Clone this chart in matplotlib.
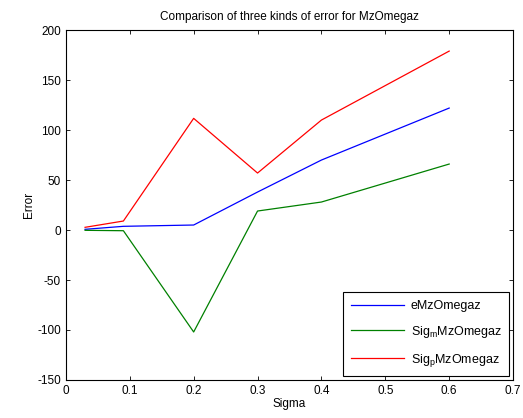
import matplotlib
matplotlib.use('Agg')
import matplotlib.pyplot as plt

plt.rcParams['font.family'] = ['Liberation Sans', 'DejaVu Sans']
plt.rcParams['font.size'] = 8.5
plt.rcParams['axes.unicode_minus'] = False
plt.rcParams['mathtext.fontset'] = 'custom'
plt.rcParams['mathtext.rm'] = 'Liberation Sans'

sigma = [0.03, 0.09, 0.2, 0.3, 0.4, 0.6]
e_err = [0.7, 3.7, 5, 38, 70, 122]
sig_m = [-0.3, -0.7, -102, 19, 28, 66]
sig_p = [2.7, 9, 111.7, 57, 110, 179]
labels = ['eMzOmegaz', 'Sig$_{\\rm m}$MzOmegaz', 'Sig$_{\\rm p}$MzOmegaz']

fig = plt.figure(figsize=(5.23, 4.18), dpi=100)
ax = fig.add_axes([0.126, 0.091, 0.855, 0.837])
ax.plot(sigma, e_err, color='#0000ff', lw=0.9, label=labels[0])
ax.plot(sigma, sig_m, color='#008000', lw=0.9, label=labels[1])
ax.plot(sigma, sig_p, color='#ff0000', lw=0.9, label=labels[2])

ax.set_xlim(0, 0.7)
ax.set_ylim(-150, 200)
ax.set_xticks([0, 0.1, 0.2, 0.3, 0.4, 0.5, 0.6, 0.7])
ax.set_xticklabels(['0', '0.1', '0.2', '0.3', '0.4', '0.5', '0.6', '0.7'])
ax.set_yticks(range(-150, 201, 50))
ax.tick_params(direction='in', top=True, right=True, length=3, width=0.6)
for s in ax.spines.values():
    s.set_linewidth(0.8)
ax.set_xlabel('Sigma', labelpad=1)
ax.set_ylabel('Error', labelpad=2)
ax.set_title('Comparison of three kinds of error for MzOmegaz', fontsize=8.5, pad=7)

leg = ax.legend(loc='lower right', fancybox=False, edgecolor='black',
                framealpha=1, borderaxespad=0.3, handlelength=4.3,
                labelspacing=0.95, borderpad=0.6, fontsize=9,
                handletextpad=0.5)
leg.get_frame().set_linewidth(0.8)

fig.savefig('out.png', dpi=100)
